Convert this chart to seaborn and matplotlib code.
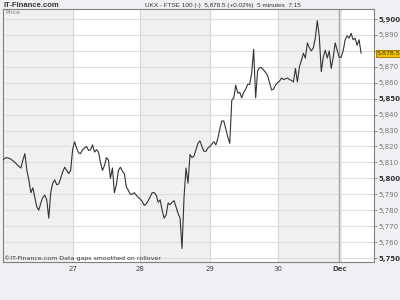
import numpy as np
import pandas as pd
import matplotlib
matplotlib.use("Agg")
import matplotlib.pyplot as plt
import seaborn as sns

# 15-minute samples of the FTSE 100 per session
nov26 = [5811.5, 5812.7, 5813, 5812.6, 5812, 5811, 5810, 5808.7, 5807.5, 5806.5,
         5811.5, 5815.5, 5805, 5799, 5791, 5794, 5788, 5782, 5780, 5784.5,
         5788, 5789.5, 5786.5, 5775, 5791, 5797, 5799, 5796, 5796.5, 5800,
         5804, 5807, 5805, 5803, 5805]
nov27 = [5818, 5823, 5819, 5816, 5815.5, 5818, 5819, 5820, 5817.5, 5818,
         5821, 5816.5, 5818, 5816.5, 5810, 5805, 5808, 5813, 5811.5, 5800,
         5806.5, 5791, 5796, 5805, 5807, 5804.5, 5803, 5794.5, 5792.5, 5790,
         5790, 5791, 5789.5, 5788]
nov28 = [5787, 5785.5, 5783, 5784, 5786, 5788.5, 5791, 5791, 5789.5, 5785,
         5786.5, 5780, 5775, 5777, 5784.5, 5783.5, 5785, 5786, 5782, 5778,
         5775, 5756, 5788, 5806.5, 5797, 5815, 5813, 5814, 5818, 5822,
         5823.5, 5820, 5817, 5817, 5819]
nov29 = [5820, 5821.5, 5823, 5821, 5825, 5831, 5836, 5836, 5831, 5826,
         5822, 5849, 5850.5, 5858.5, 5853.5, 5854, 5850.5, 5854, 5856, 5859,
         5859, 5866, 5881, 5850.5, 5867.5, 5869.5, 5869.5, 5868, 5866.5, 5864.5,
         5860, 5855.5, 5856, 5858.5]
nov30 = [5860, 5861, 5863, 5862, 5862.5, 5863, 5862, 5861.5, 5860.5, 5869,
         5860.5, 5870, 5874, 5878.5, 5875.5, 5885, 5882, 5880, 5882, 5888,
         5899, 5889, 5867, 5876, 5880.5, 5875.5, 5880, 5869, 5876, 5885,
         5880.5]
dec03 = [5876, 5876, 5880, 5887, 5889.5, 5888, 5891, 5887, 5888, 5883.5,
         5887, 5878.5]

sessions = [nov26, nov27, nov28, nov29, nov30, dec03]
day_labels = ["27", "28", "29", "30", "Dec"]
last_price = 5878.5
title_text = "UKX - FTSE 100 (-)  5,878.5 (+0.02%)  5 minutes  7:15"

values = np.concatenate([np.array(s, dtype=float) for s in sessions])
df = pd.DataFrame({"t": np.arange(len(values)), "price": values})
bounds = np.cumsum([0] + [len(s) for s in sessions])  # session starts

sns.set_theme(style="white")
plt.rcParams["font.family"] = ["DejaVu Sans"]

fig = plt.figure(figsize=(4, 3), dpi=100)
fig.patch.set_facecolor("#eef0f3")
ax = fig.add_axes([0.0075, 0.1267, 0.9275, 0.8433])
ax.set_facecolor("white")

xmax = bounds[-2] + 17.5
ax.set_xlim(0, xmax)
ax.set_ylim(5747.5, 5906.3)

# alternating session shading
for i in range(len(sessions)):
    if i % 2 == 0:
        end = bounds[i + 1] if i + 1 < len(sessions) else xmax
        ax.axvspan(bounds[i], end, color="#f0f0f0", zorder=0, lw=0)

# horizontal grid
for v in np.arange(5750, 5901, 10):
    ax.axhline(v, color="#dedede", lw=0.8, zorder=1)
# session separators
for b in bounds[1:-2]:
    ax.axvline(b, color="#d8d8d8", lw=0.8, zorder=1)
ax.axvline(bounds[-2], color="#a8a8a8", lw=1.0, zorder=1)
ax.axvspan(bounds[-2], bounds[-2] + 1.5, color="#ececec", zorder=0, lw=0)

sns.lineplot(data=df, x="t", y="price", ax=ax, color="#333333",
             linewidth=0.8, zorder=3)

ax.set_xlabel("")
ax.set_ylabel("")
ax.set_xticks(bounds[1:-1])
ax.set_xticklabels(day_labels)
ax.tick_params(axis="x", length=2, width=0.6, color="#777777", pad=1,
               labelsize=5, labelcolor="#444444")
for lbl in ax.get_xticklabels():
    if lbl.get_text() == "Dec":
        lbl.set_fontweight("bold")

yt = np.arange(5750, 5901, 10)
ax.yaxis.tick_right()
ax.set_yticks(yt)
# the label nearest the last-price box is hidden behind it
ax.set_yticklabels(["" if abs(v - last_price) < 5 else f"{int(v):,}" for v in yt])
ax.tick_params(axis="y", length=2, width=0.6, color="#777777", pad=1,
               labelsize=5, labelcolor="#777777")
for lbl, v in zip(ax.get_yticklabels(), yt):
    if v % 50 == 0:
        lbl.set_fontweight("bold")
        lbl.set_color("#333333")

for s in ax.spines.values():
    s.set_color("#808080")
    s.set_linewidth(0.8)

# last price marker
ax.annotate(f"{last_price:,.1f}", xy=(1.0, last_price), xycoords=("axes fraction", "data"),
            xytext=(1.8, 0), textcoords="offset points", va="center", ha="left",
            fontsize=4.6, color="#333333",
            bbox=dict(boxstyle="square,pad=0.12", fc="#f2c200", ec="#a07000", lw=0.6),
            annotation_clip=False, zorder=5)

ax.text(0.006, 0.995, "Price", transform=ax.transAxes, ha="left", va="top",
        fontsize=4.3, color="#777777")
ax.text(0.004, 0.005, "\u00a9IT-Finance.com Data gaps smoothed on rollover",
        transform=ax.transAxes, ha="left", va="bottom", fontsize=4.5, color="#333333")

fig.text(0.008, 0.983, "IT-Finance.com", ha="left", va="center", fontsize=5.5,
         fontweight="bold", color="#333333", family=["Liberation Sans"])
fig.text(0.362, 0.983, title_text, ha="left", va="center", fontsize=4.6,
         color="#333333", family=["Liberation Sans"])

fig.savefig("out.png", dpi=100, facecolor=fig.get_facecolor())
